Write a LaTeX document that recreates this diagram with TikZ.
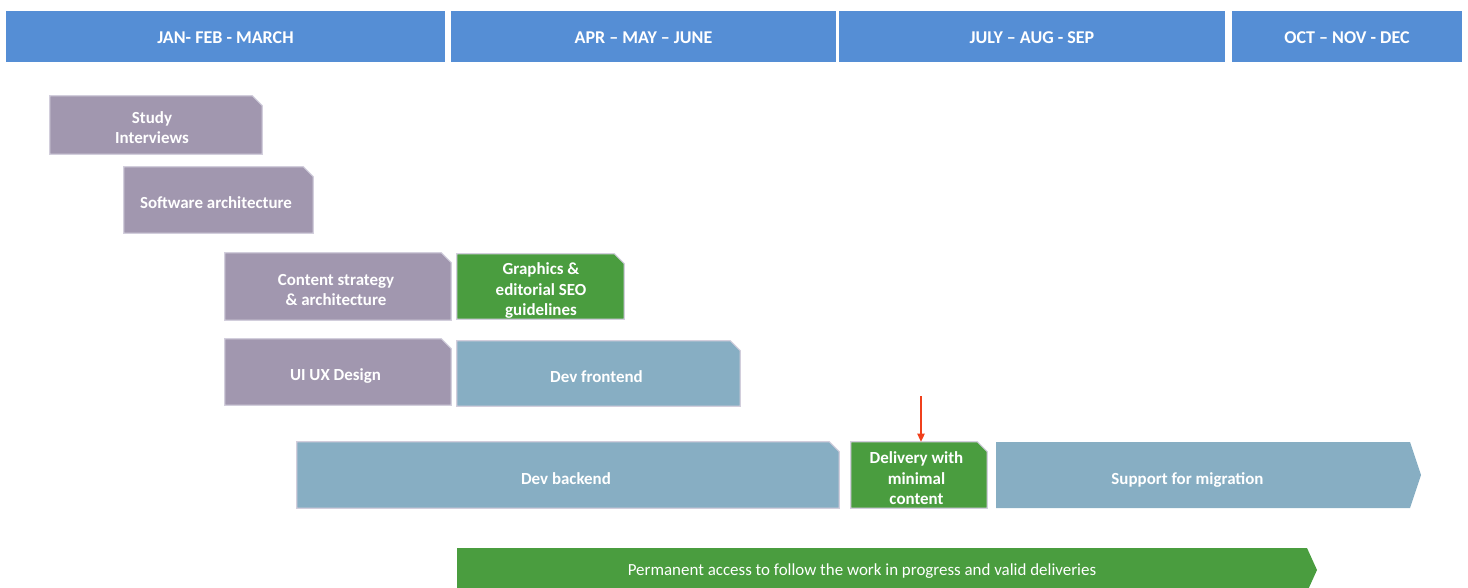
\documentclass[tikz,border=0pt]{standalone}
\usepackage{fontspec}
\setmainfont{Carlito}
\usetikzlibrary{arrows.meta}
\definecolor{hdrblue}{HTML}{558ED5}
\definecolor{taskpurple}{HTML}{A197AF}
\definecolor{taskgreen}{HTML}{4A9D3F}
\definecolor{taskblue}{HTML}{87AEC3}
\definecolor{edgegray}{HTML}{D2CEDC}
\definecolor{markred}{HTML}{F0401C}
\tikzset{
  sz/.style 2 args={minimum width=#1*0.75pt, minimum height=#2*0.75pt},
  header/.style={fill=hdrblue, draw=none, inner sep=0pt, text=white},
  headertext/.style={text=white, inner sep=0pt, font=\bfseries\fontsize{13.5}{15}\selectfont},
  slot/.style={rectangle, inner sep=0pt, draw=none},
  snipfill/.style={draw=edgegray, line width=0.8pt, fill=#1},
  tasktext/.style={text=white, align=center, inner sep=0pt,
    font=\bfseries\fontsize{12.7}{15.3}\selectfont},
  arrowlabel/.style={text=white, inner sep=0pt},
}
\newcommand{\snipshape}[2]{%
  \path[snipfill=#2] (#1.south west) -- (#1.north west) -- ([xshift=-7.5pt]#1.north east)
    -- ([yshift=-7.5pt]#1.north east) -- (#1.south east) -- cycle;}
\begin{document}
\begin{tikzpicture}[x=0.75pt, y=-0.75pt]
\useasboundingbox (0,0) rectangle (1468,587);
% headers
\node[header, sz={439}{51}] (h1) at (225.5,36.5) {};
\node[header, sz={385}{51}] (h2) at (643.5,36.5) {};
\node[header, sz={386}{51}] (h3) at (1032,36.5) {};
\node[header, sz={230}{51}] (h4) at (1347,36.5) {};
\node[headertext] (h1t) at ([yshift=-0.75pt]h1.center) {JAN- FEB - MARCH};
\node[headertext] (h2t) at ([yshift=-0.75pt]h2.center) {APR -- MAY -- JUNE};
\node[headertext] (h3t) at ([yshift=-0.75pt]h3.center) {JULY -- AUG - SEP};
\node[headertext] (h4t) at ([yshift=-0.75pt]h4.center) {OCT -- NOV - DEC};
% task slots
\node[slot, sz={212}{58}] (study) at (156,125) {};
\node[slot, sz={189}{66}] (soft) at (218.5,200) {};
\node[slot, sz={226}{67}] (content) at (338,286.5) {};
\node[slot, sz={167}{65}] (graph) at (540.5,286.5) {};
\node[slot, sz={226}{66}] (uiux) at (338,372) {};
\node[slot, sz={283}{65}] (front) at (598.5,373.5) {};
\node[slot, sz={542}{66}] (back) at (568,475) {};
\node[slot, sz={136}{66}] (deliv) at (919,475) {};
% task shapes
\snipshape{study}{taskpurple}
\snipshape{soft}{taskpurple}
\snipshape{content}{taskpurple}
\snipshape{graph}{taskgreen}
\snipshape{uiux}{taskpurple}
\snipshape{front}{taskblue}
\snipshape{back}{taskblue}
\snipshape{deliv}{taskgreen}
% task texts
\node[tasktext] (studyt) at ([shift={(-4,2.5)}]study.center) {Study\\Interviews};
\node[tasktext] (softt) at ([shift={(-2.5,3)}]soft.center) {Software architecture};
\node[tasktext] (contentt) at ([shift={(-2,3.5)}]content.center) {Content strategy\\\& architecture};
\node[tasktext] (grapht) at ([shift={(0.5,4)}]graph.center) {Graphics \&\\editorial SEO\\guidelines};
\node[tasktext] (uiuxt) at ([shift={(-2.5,4)}]uiux.center) {UI UX Design};
\node[tasktext] (frontt) at ([shift={(-2,3)}]front.center) {Dev frontend};
\node[tasktext] (backt) at ([shift={(-2,3.5)}]back.center) {Dev backend};
\node[tasktext] (delivt) at ([shift={(-2.5,3.5)}]deliv.center) {Delivery with\\minimal\\content};
% support arrow
\fill[taskblue] (996,442) -- (1410,442) -- (1421,475) -- (1410,508) -- (996,508) -- cycle;
\node[arrowlabel, font=\bfseries\fontsize{12.7}{15}\selectfont] (support) at (1187.5,479.5) {Support for migration};
% permanent arrow
\fill[taskgreen] (457,548) -- (1307,548) -- (1317,570) -- (1307,592) -- (457,592) -- cycle;
\node[arrowlabel, font=\fontsize{12.7}{15}\selectfont] (perm) at (862,571.5) {Permanent access to follow the work in progress and valid deliveries};
% red marker
\coordinate (mk) at (921,396);
\draw[markred, line width=0.9pt, -{Triangle[length=6pt,width=5.5pt]}] (mk) -- (mk |- deliv.north);
\end{tikzpicture}
\end{document}
